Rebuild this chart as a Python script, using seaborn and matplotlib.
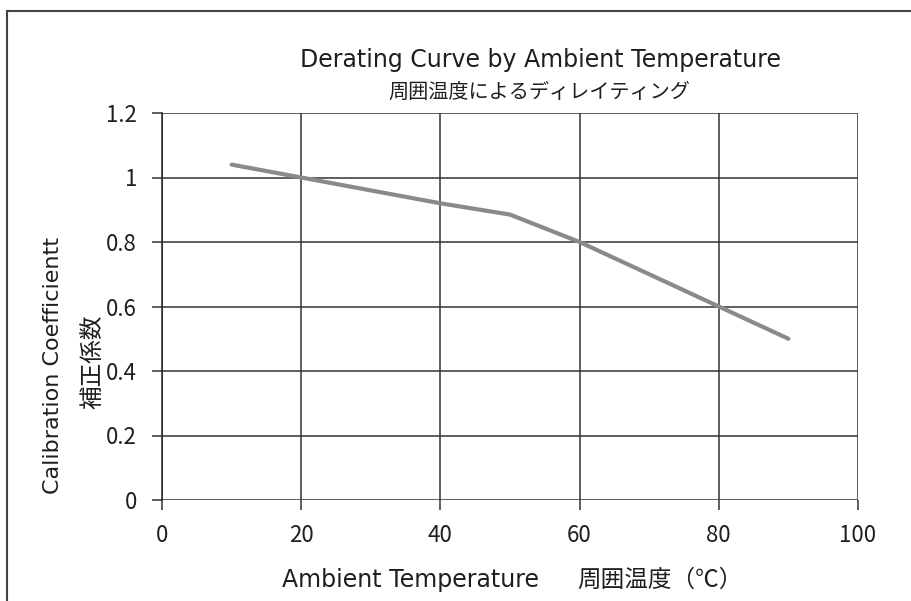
import matplotlib
matplotlib.use("Agg")
import matplotlib.pyplot as plt
import seaborn as sns
import pandas as pd
from matplotlib.patches import Rectangle

temperature = [10, 20, 30, 40, 50, 60, 70, 80, 90]
coefficient = [1.04, 1.0, 0.96, 0.92, 0.885, 0.8, 0.7, 0.6, 0.5]
x_ticks = [0, 20, 40, 60, 80, 100]
y_ticks = [0, 0.2, 0.4, 0.6, 0.8, 1.0, 1.2]
y_tick_labels = ["0", "0.2", "0.4", "0.6", "0.8", "1", "1.2"]

title_en = "Derating Curve by Ambient Temperature"
title_jp = "周囲温度によるディレイティング"
xlabel_en = "Ambient Temperature"
xlabel_jp = "周囲温度（℃）"
ylabel_en = "Calibration Coefficientt"
ylabel_jp = "補正係数"

sns.set_theme(style="white")
plt.rcParams['font.family'] = ['Noto Sans CJK JP', 'DejaVu Sans']
EN = ['DejaVu Sans', 'Noto Sans CJK JP']
JP = ['Noto Sans CJK JP', 'DejaVu Sans']
TXT = "#1e1e1e"

df = pd.DataFrame({"temp": temperature, "coef": coefficient})

fig = plt.figure(figsize=(9.12, 6.01), dpi=100)
fig.patch.set_facecolor("white")
ax = fig.add_axes([162/912, 1-500/601, (858-162)/912, (500-113)/601])

sns.lineplot(data=df, x="temp", y="coef", ax=ax, color="#8a8a8a", linewidth=3)

ax.set_xlim(0, 100)
ax.set_ylim(0, 1.2)
ax.set_xticks(x_ticks)
ax.set_xticklabels([str(t) for t in x_ticks])
ax.set_yticks(y_ticks)
ax.set_yticklabels(y_tick_labels)
ax.grid(True, color="#333333", linewidth=1.1)
ax.set_axisbelow(True)
for s in ["top", "right", "bottom"]:
    ax.spines[s].set_visible(False)
ax.spines["left"].set_color("#222222")
ax.spines["left"].set_linewidth(1.1)
ax.tick_params(axis="both", direction="out", length=7, width=1.1, color="#333333",
               labelsize=16, labelcolor=TXT, left=True, bottom=True)
ax.tick_params(axis="y", pad=11)
ax.tick_params(axis="x", pad=10)
ax.set_xlabel("")
ax.set_ylabel("")

fig.text(541/912, 1-60/601, title_en, ha="center", va="center", fontsize=17, color=TXT, family=EN)
fig.text(539/912, 1-92/601, title_jp, ha="center", va="center", fontsize=14.5, color=TXT, family=JP)
fig.text(282/912, 1-580/601, xlabel_en, ha="left", va="center", fontsize=17, color=TXT, family=EN)
fig.text(577/912, 1-580/601, xlabel_jp, ha="left", va="center", fontsize=17, color=TXT, family=JP)
fig.text(53/912, 1-366/601, ylabel_en, ha="center", va="center", rotation=90, fontsize=16, color=TXT, family=EN)
fig.text(93/912, 1-362/601, ylabel_jp, ha="center", va="center", rotation=90, fontsize=17, color=TXT, family=JP)

fig.patches.append(Rectangle((7/912, -0.1), 1.2, (1-11/601)+0.1, transform=fig.transFigure,
                             fill=False, edgecolor="#444444", linewidth=1.5))

fig.savefig("out.png", dpi=100)
